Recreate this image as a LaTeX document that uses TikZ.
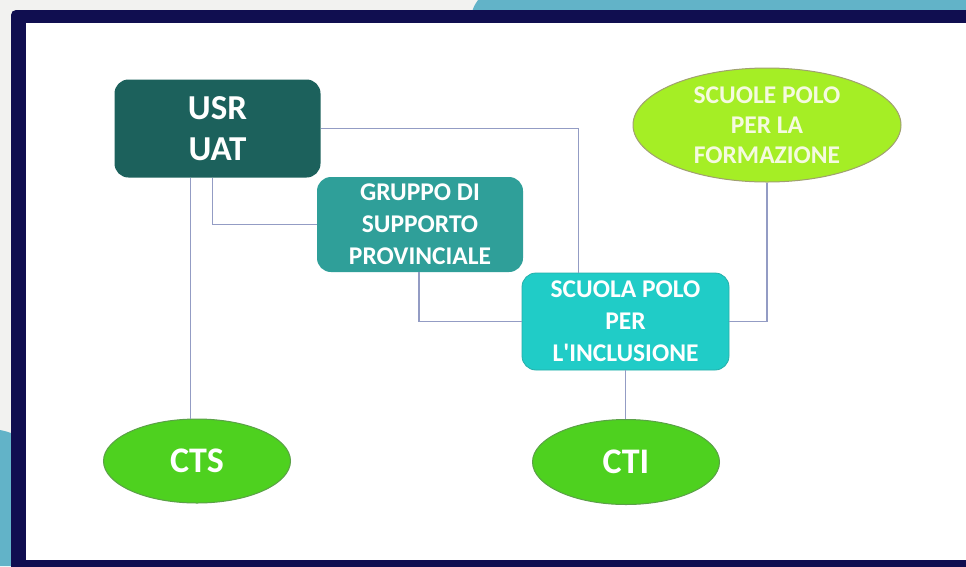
\documentclass[tikz,border=0pt]{standalone}
\usepackage{fontspec}
\setmainfont{Carlito}
\usetikzlibrary{shapes.geometric}
\definecolor{bggrey}{HTML}{F2F2F0}
\definecolor{lblue}{HTML}{62B3C8}
\definecolor{navy}{HTML}{100E50}
\definecolor{usrfill}{HTML}{1C615C}
\definecolor{grpfill}{HTML}{2F9F99}
\definecolor{spifill}{HTML}{20CCC7}
\definecolor{spiline}{HTML}{25AFAA}
\definecolor{formfill}{HTML}{A5EE25}
\definecolor{formline}{HTML}{A0A070}
\definecolor{ctfill}{HTML}{4ED11F}
\definecolor{ctline}{HTML}{5BA048}
\definecolor{conn}{HTML}{939CC4}
\definecolor{formtext}{HTML}{F5FADF}
\tikzset{
  boxnode/.style={rectangle, rounded corners=14pt, inner sep=0pt, align=center,
    text=white, font=\bfseries\fontsize{25.5}{32}\selectfont},
  ellnode/.style={ellipse, inner sep=0pt, align=center, line width=1pt},
  connline/.style={draw=conn, line width=1.2pt}
}
\begin{document}
\begin{tikzpicture}[x=1pt,y=-1pt]
\useasboundingbox (0,0) rectangle (966,566);
% background
\fill[bggrey] (0,0) rectangle (966,566);
\fill[lblue] (478,0) -- (966,0) -- (966,12) -- (472,12) .. controls (474,6) .. (478,0) -- cycle;
\fill[lblue] (0,430) .. controls (5,431) .. (14,434) -- (14,566) -- (0,566) -- cycle;
% frame
\fill[navy, rounded corners=5pt] (11,10) rectangle (990,590);
\fill[white] (26,23) rectangle (966,560);
% nodes
\node[boxnode, fill=usrfill, minimum width=206pt, minimum height=98pt,
  font=\bfseries\fontsize{35}{41}\selectfont] (usr) at (217.5,128.5) {USR\\UAT};
\node[boxnode, fill=grpfill, minimum width=206pt, minimum height=95pt] (grp) at (420,224.5)
  {GRUPPO DI\\SUPPORTO\\PROVINCIALE};
\node[boxnode, fill=spifill, draw=spiline, line width=0.8pt, minimum width=207pt, minimum height=97pt]
  (spi) at (625.5,321.5) {SCUOLA POLO\\PER\\L\textquotesingle INCLUSIONE};
\node[ellnode, fill=formfill, draw=formline, minimum width=268pt, minimum height=114pt,
  text=formtext, font=\bfseries\fontsize{25.5}{30}\selectfont] (form) at (767,125)
  {SCUOLE POLO\\PER LA\\FORMAZIONE};
\node[ellnode, fill=ctfill, draw=ctline, minimum width=187pt, minimum height=84pt,
  text=white, font=\bfseries\fontsize{36}{42}\selectfont] (cts) at (197,461) {CTS};
\node[ellnode, fill=ctfill, draw=ctline, minimum width=187pt, minimum height=85pt,
  text=white, font=\bfseries\fontsize{36}{42}\selectfont] (cti) at (626,462) {CTI};
% connectors
\draw[connline] ([xshift=-27pt]usr.south) -- ([xshift=-27pt]usr.south |- cts.north);
\draw[connline] ([xshift=-5pt]usr.south) |- (grp.west);
\draw[connline] (usr.east) -| ([xshift=-47pt]spi.north);
\draw[connline] ([xshift=-1pt]grp.south) |- (spi.west);
\draw[connline] (form.south) |- (spi.east);
\draw[connline] (spi.south) -- (spi.south |- cti.north);
\end{tikzpicture}
\end{document}
